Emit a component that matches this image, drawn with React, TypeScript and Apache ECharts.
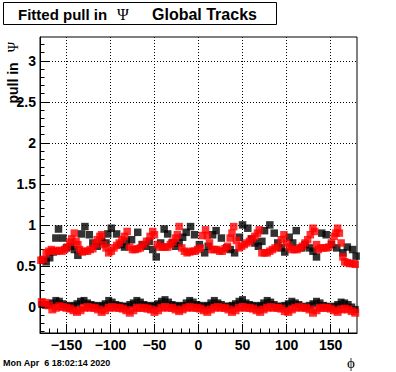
import React, { useEffect, useRef } from "react";
import * as echarts from "echarts";

// ---- data ----
const X_MAJOR = [-150, -100, -50, 0, 50, 100, 150];
const X_MINOR = [-170, -160, -150, -140, -130, -120, -110, -100, -90, -80, -70, -60, -50, -40, -30, -20, -10, 0, 10, 20, 30, 40, 50, 60, 70, 80, 90, 100, 110, 120, 130, 140, 150, 160, 170];
const Y_MAJOR = [0, 0.5, 1, 1.5, 2, 2.5, 3];
const Y_MINOR = [-0.3, -0.2, -0.1, 0, 0.1, 0.2, 0.3, 0.4, 0.5, 0.6, 0.7, 0.8, 0.9, 1, 1.1, 1.2, 1.3, 1.4, 1.5, 1.6, 1.7, 1.8, 1.9, 2, 2.1, 2.2, 2.3, 2.4, 2.5, 2.6, 2.7, 2.8, 2.9, 3, 3.1, 3.2];

const blackUpper: [number, number][] = [
  [-177, 0.57], [-173, 0.55], [-169, 0.6], [-165, 0.67], [-162, 0.84], [-159, 0.95], [-154, 0.84], [-150, 0.72],
  [-145, 0.74], [-141, 0.7], [-137, 0.63], [-133, 0.89], [-129, 0.98], [-124, 0.88], [-120, 0.78], [-115, 0.74],
  [-110, 0.8], [-105, 0.78], [-103, 0.89], [-99, 0.96], [-93, 0.89], [-88, 0.76], [-84, 0.73], [-82, 0.8],
  [-76, 0.82], [-69, 0.91], [-64, 0.76], [-60, 0.74], [-56, 0.8], [-52, 0.7], [-48, 0.61], [-43, 0.78],
  [-39, 0.95], [-35, 0.89], [-30, 0.78], [-26, 0.74], [-22, 0.78], [-18, 0.85], [-14, 0.91], [-9, 0.98],
  [-4.5, 0.88], [1, 0.76], [7, 0.66], [11, 0.74], [16, 0.88], [20, 0.93], [26, 0.84], [32, 0.72],
  [36, 0.7], [41, 0.66], [46.5, 0.85], [50, 1.0], [56, 0.96], [60, 0.83], [64, 0.78], [68, 0.74],
  [72, 0.8], [75, 0.93], [81, 1.0], [86, 0.9], [90, 0.78], [94, 0.72], [98, 0.67], [103, 0.85],
  [107, 0.78], [111, 0.93], [117, 0.72], [121, 0.76], [126, 0.72], [130, 0.68], [134, 0.61], [140, 0.9],
  [145, 0.88], [151, 0.76], [157, 0.72], [164, 0.66], [169, 0.73], [175, 0.7], [179, 0.62],
];

const redUpper: [number, number][] = [
  [-179, 0.57], [-176, 0.58], [-173, 0.66], [-170, 0.68], [-167, 0.7], [-164, 0.68], [-161, 0.68], [-158, 0.69],
  [-155, 0.68], [-152, 0.7], [-149, 0.73], [-146, 0.79], [-144, 0.83], [-141, 0.9], [-139, 0.8], [-137, 0.76],
  [-135, 0.7], [-132, 0.67], [-129, 0.68], [-126, 0.68], [-123, 0.7], [-120, 0.71], [-117, 0.77], [-115, 0.82],
  [-112, 0.86], [-110, 0.88], [-108, 0.76], [-105, 0.72], [-102, 0.66], [-99, 0.68], [-96, 0.72], [-93, 0.75],
  [-90, 0.78], [-87, 0.82], [-84, 0.86], [-81, 0.92], [-78, 0.73], [-75, 0.7], [-72, 0.7], [-69, 0.71],
  [-66, 0.72], [-63, 0.76], [-59, 0.8], [-55, 0.86], [-52, 0.92], [-50, 0.88], [-47, 0.76], [-44, 0.73],
  [-41, 0.73], [-38, 0.73], [-35, 0.73], [-32, 0.76], [-29, 0.79], [-26, 0.84], [-24, 0.88], [-22, 0.98],
  [-19, 0.72], [-16, 0.68], [-13, 0.66], [-10, 0.67], [-7, 0.68], [-4, 0.68], [-1, 0.7], [2, 0.72],
  [4.5, 0.87], [8, 0.94], [10, 0.87], [12.5, 0.78], [15, 0.7], [18, 0.7], [21, 0.7], [24, 0.68],
  [27, 0.68], [30, 0.71], [33, 0.74], [36, 0.84], [38, 0.9], [40, 0.98], [43, 0.81], [46, 0.72],
  [49, 0.74], [52, 0.76], [55, 0.78], [58, 0.8], [61, 0.83], [64, 0.86], [67, 0.9], [69, 0.94],
  [72, 0.66], [75, 0.66], [78, 0.66], [81, 0.68], [84, 0.7], [87, 0.72], [90, 0.73], [94, 0.82],
  [97, 0.88], [100, 0.78], [103, 0.73], [106, 0.7], [109, 0.7], [112, 0.7], [115, 0.72], [118, 0.74],
  [121, 0.78], [124, 0.82], [127, 0.88], [130, 0.96], [132, 0.92], [134, 0.76], [136, 0.7], [139, 0.72],
  [142, 0.72], [145, 0.72], [148, 0.73], [151, 0.78], [154, 0.86], [156, 0.9], [158, 0.96], [160, 0.9],
  [162, 0.78], [164, 0.61], [166, 0.55], [169, 0.54], [172, 0.53], [175, 0.53], [178, 0.52],
];

const lowerPhi = [
  -178, -174, -170, -166, -162, -158, -154, -150, -146, -142,
  -138, -134, -130, -126, -122, -118, -114, -110, -106, -102,
  -98, -94, -90, -86, -82, -78, -74, -70, -66, -62,
  -58, -54, -50, -46, -42, -38, -34, -30, -26, -22,
  -18, -14, -10, -6, -2, 2, 6, 10, 14, 18,
  22, 26, 30, 34, 38, 42, 46, 50, 54, 58,
  62, 66, 70, 74, 78, 82, 86, 90, 94, 98,
  102, 106, 110, 114, 118, 122, 126, 130, 134, 138,
  142, 146, 150, 154, 158, 162, 166, 170, 174, 178,
];

const blackLower = [
  0.03, 0.02, 0.03, 0.05, 0.08, 0.07, 0.04, 0.02, 0.01, 0.02,
  0.04, 0.07, 0.08, 0.05, 0.03, 0.02, 0.01, 0.02, 0.04, 0.08,
  0.06, 0.03, 0.02, 0.01, 0.01, 0.03, 0.05, 0.08, 0.06, 0.03,
  0.02, 0.01, 0.02, 0.04, 0.07, 0.09, 0.06, 0.03, 0.02, 0.01,
  0.02, 0.05, 0.08, 0.06, 0.03, 0.02, 0.01, 0.02, 0.05, 0.08,
  0.05, 0.03, 0.01, 0.01, 0.02, 0.04, 0.07, 0.09, 0.05, 0.03,
  0.02, 0.01, 0.02, 0.05, 0.08, 0.06, 0.03, 0.01, 0.01, 0.02,
  0.04, 0.07, 0.05, 0.03, 0.01, 0.0, 0.02, 0.04, 0.07, 0.05,
  0.02, 0.01, 0.0, 0.01, 0.03, 0.06, 0.05, 0.03, 0.0, -0.03,
];

const redLower = [
  0.06, 0.05, 0.02, -0.03, -0.01, 0.01, 0.0, -0.01, -0.02, -0.04,
  -0.06, -0.04, -0.01, 0.0, -0.01, -0.01, -0.03, -0.06, -0.04, -0.01,
  0.0, -0.01, -0.01, -0.02, -0.04, -0.07, -0.04, -0.01, -0.01, -0.01,
  -0.02, -0.03, -0.06, -0.04, -0.01, 0.0, -0.01, -0.01, -0.03, -0.05,
  -0.03, -0.01, 0.0, -0.01, -0.01, -0.02, -0.04, -0.06, -0.03, -0.01,
  0.0, -0.01, -0.01, -0.03, -0.06, -0.04, -0.01, 0.0, -0.01, -0.01,
  -0.02, -0.04, -0.06, -0.03, -0.01, 0.0, -0.01, -0.01, -0.02, -0.05,
  -0.06, -0.03, -0.01, 0.0, -0.01, -0.01, -0.03, -0.07, -0.04, -0.01,
  -0.01, -0.01, -0.02, -0.04, -0.06, -0.03, -0.02, -0.03, -0.05, -0.07,
];

const TITLE_A = "Fitted pull in";
const TITLE_SYM = "Ψ";
const TITLE_B = "Global Tracks";
const Y_TITLE = "pull in";
const X_TITLE = "ϕ";
const DATE_TEXT = "Mon Apr  6 18:02:14 2020";

const SANS = "Liberation Sans, Arial, Helvetica, sans-serif";
const SERIF = "Liberation Serif, DejaVu Serif, Times New Roman, serif";

const zip = (xs: number[], ys: number[]) => xs.map((x, i) => [x, ys[i]]);

export default function App() {
  const ref = useRef<HTMLDivElement>(null);
  useEffect(() => {
    if (!ref.current) return;
    const chart = echarts.init(ref.current, null, { renderer: "svg" });
    const labelStyle = {
      fontFamily: SANS,
      fontWeight: "bold" as const,
      fontSize: 14,
      color: "#000",
    };
    const fmt = (v: number) => (v < 0 ? "\u2212" + Math.abs(v) : String(v));
    const txt = (x: number, y: number, text: string, font: string, align: string, extra: any = {}) => ({
      type: "text",
      x,
      y,
      z: 11,
      ...extra,
      style: {
        text,
        font,
        fill: "#000",
        align,
        verticalAlign: "middle",
        textAlign: align,
        textVerticalAlign: "middle",
      },
    });
    chart.setOption({
      animation: false,
      backgroundColor: "#fff",
      grid: {
        left: 40,
        right: 39,
        top: 37,
        bottom: 39,
        show: true,
        borderColor: "#000",
        borderWidth: 1,
        backgroundColor: "#fff",
      },
      xAxis: [
        {
          type: "value",
          min: -180,
          max: 180,
          position: "bottom",
          axisLine: { show: true, onZero: false, lineStyle: { color: "#000", width: 1 } },
          axisTick: { show: true, inside: true, length: 9, customValues: X_MAJOR, lineStyle: { color: "#000" } },
          axisLabel: { ...labelStyle, margin: 5, customValues: X_MAJOR, formatter: fmt },
          splitLine: { show: true, lineStyle: { color: "#000", width: 1, type: [1, 2] } },
        },
        {
          type: "value",
          min: -180,
          max: 180,
          position: "bottom",
          axisLine: { show: false, onZero: false },
          axisTick: { show: true, inside: true, length: 4.5, customValues: X_MINOR, lineStyle: { color: "#000" } },
          axisLabel: { show: false },
          splitLine: { show: false },
        },
      ],
      yAxis: [
        {
          type: "value",
          min: -0.317,
          max: 3.29,
          position: "left",
          axisLine: { show: true, onZero: false, lineStyle: { color: "#000", width: 1 } },
          axisTick: { show: true, inside: true, length: 9, customValues: Y_MAJOR, lineStyle: { color: "#000" } },
          axisLabel: { ...labelStyle, margin: 4, customValues: Y_MAJOR, formatter: (v: number) => String(v) },
          splitLine: { show: true, lineStyle: { color: "#000", width: 1, type: [1, 2] } },
        },
        {
          type: "value",
          min: -0.317,
          max: 3.29,
          position: "left",
          axisLine: { show: false, onZero: false },
          axisTick: { show: true, inside: true, length: 4.5, customValues: Y_MINOR, lineStyle: { color: "#000" } },
          axisLabel: { show: false },
          splitLine: { show: false },
        },
      ],
      series: [
        {
          type: "scatter",
          xAxisIndex: 0,
          yAxisIndex: 0,
          symbol: "rect",
          symbolSize: 7,
          itemStyle: { color: "#000" },
          data: zip(lowerPhi, blackLower),
        },
        {
          type: "scatter",
          xAxisIndex: 0,
          yAxisIndex: 0,
          symbol: "rect",
          symbolSize: 7.5,
          itemStyle: { color: "#000" },
          data: blackUpper,
        },
        {
          type: "scatter",
          xAxisIndex: 0,
          yAxisIndex: 0,
          symbol: "rect",
          symbolSize: 8,
          itemStyle: { color: "#ff0000" },
          data: zip(lowerPhi, redLower),
        },
        {
          type: "scatter",
          xAxisIndex: 0,
          yAxisIndex: 0,
          symbol: "rect",
          symbolSize: 7.5,
          itemStyle: { color: "#ff0000" },
          data: redUpper,
        },
      ],
      graphic: [
        {
          type: "rect",
          shape: { x: 3.5, y: 2.5, width: 273, height: 22 },
          style: { fill: "#fff", stroke: "#000", lineWidth: 1 },
          z: 10,
        },
        txt(18, 14, TITLE_A, `bold 15px ${SANS}`, "left"),
        txt(117, 14, TITLE_SYM, `16px ${SERIF}`, "left"),
        txt(152, 14, TITLE_B, `bold 16px ${SANS}`, "left"),
        {
          type: "text",
          x: 13,
          y: 42,
          rotation: Math.PI / 2,
          z: 11,
          style: {
            text: `{b|${Y_TITLE}}   {s|${TITLE_SYM}}`,
            align: "right",
            verticalAlign: "middle",
            textAlign: "right",
            textVerticalAlign: "middle",
            rich: {
              b: { fontFamily: SANS, fontWeight: "bold", fontSize: 14, fill: "#000", color: "#000" },
              s: { fontFamily: SERIF, fontSize: 14, fill: "#000", color: "#000" },
            },
          },
        },
        txt(3, 363, DATE_TEXT, `bold 9px ${SANS}`, "left"),
        txt(351, 363, X_TITLE, `15px ${SERIF}`, "center"),
      ],
    });
    return () => chart.dispose();
  }, []);
  return (
    <div
      ref={ref}
      style={{ position: "fixed", left: 0, top: 0, width: 396, height: 372, background: "#fff" }}
    />
  );
}
